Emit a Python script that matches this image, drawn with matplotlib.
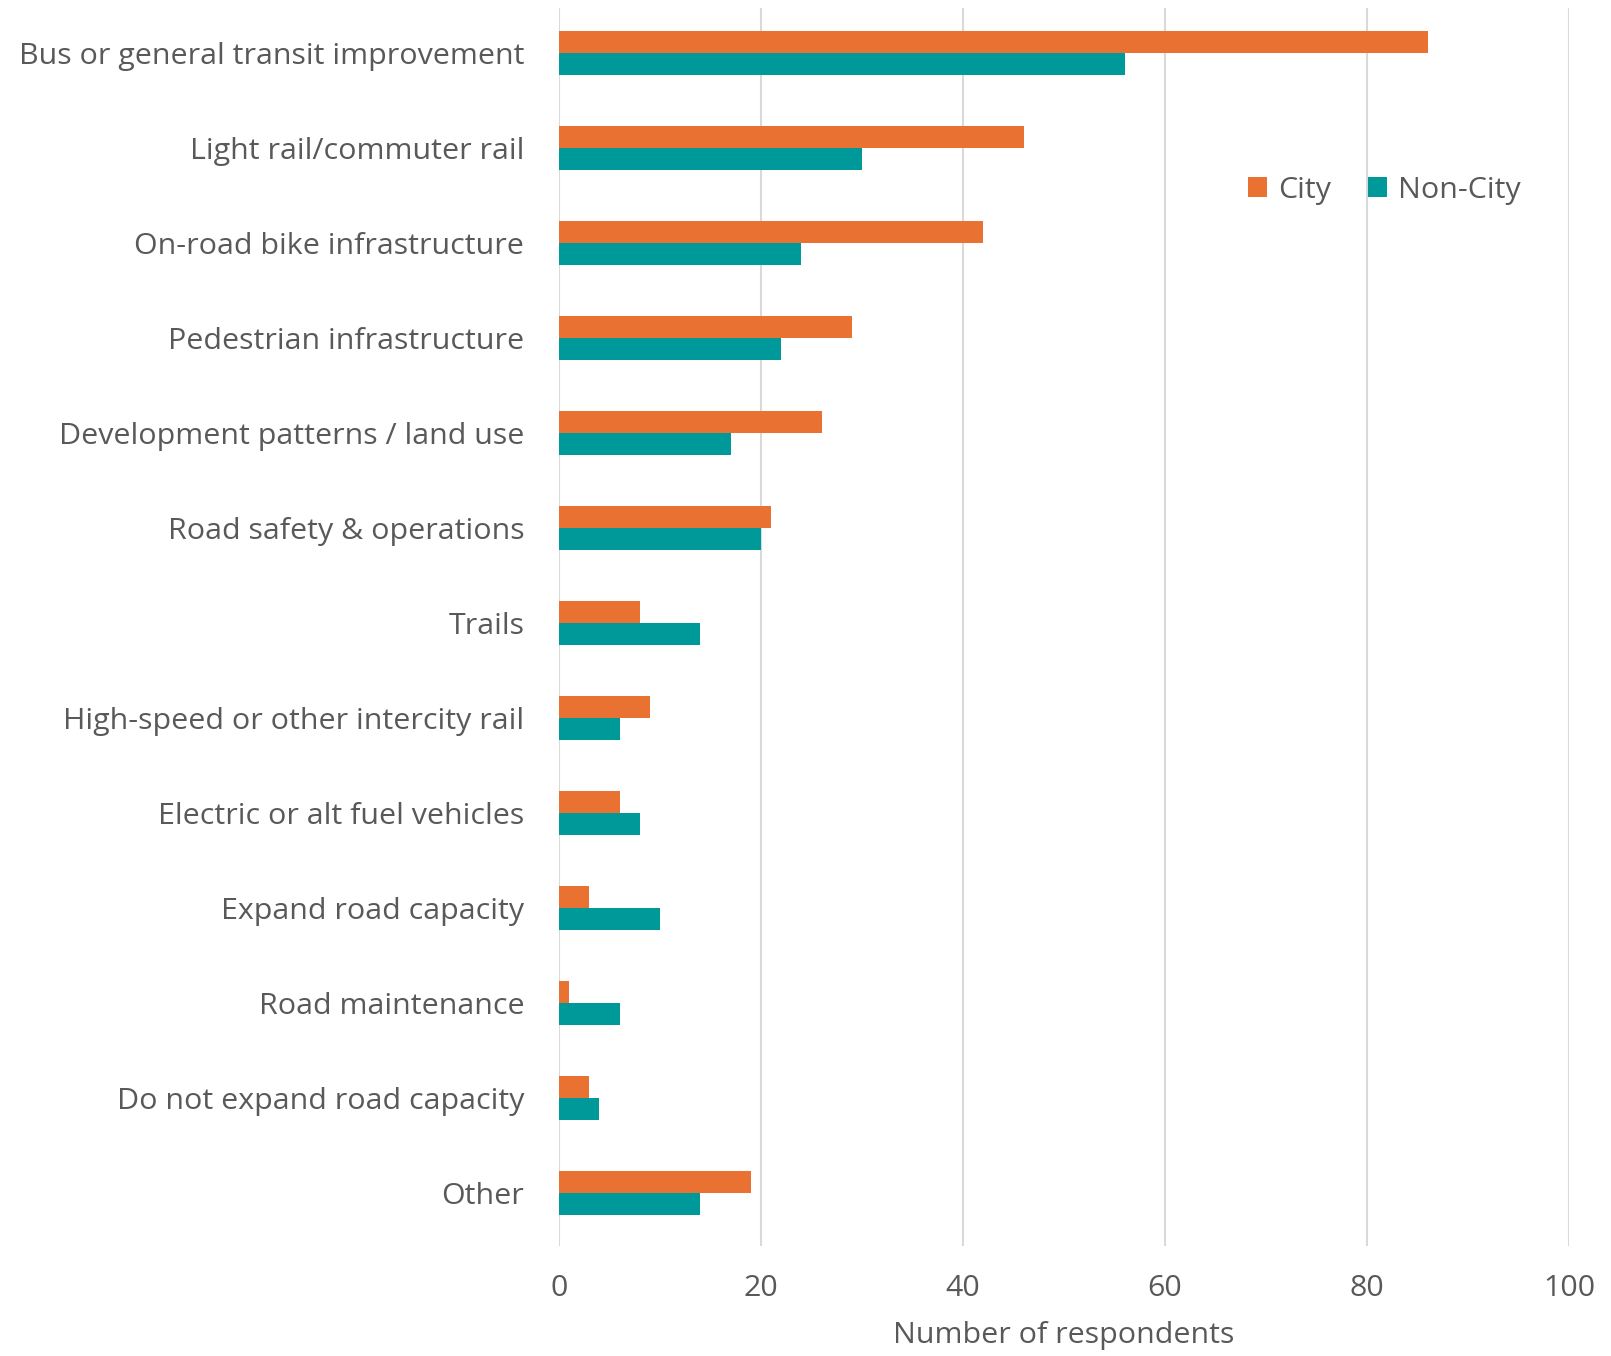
import matplotlib
matplotlib.use("Agg")
import matplotlib.pyplot as plt
import numpy as np

categories = [
    "Bus or general transit improvement",
    "Light rail/commuter rail",
    "On-road bike infrastructure",
    "Pedestrian infrastructure",
    "Development patterns / land use",
    "Road safety & operations",
    "Trails",
    "High-speed or other intercity rail",
    "Electric or alt fuel vehicles",
    "Expand road capacity",
    "Road maintenance",
    "Do not expand road capacity",
    "Other",
]
city = [86, 46, 42, 29, 26, 21, 8, 9, 6, 3, 1, 3, 19]
non_city = [56, 30, 24, 22, 17, 20, 14, 6, 8, 10, 6, 4, 14]
x_ticks = [0, 20, 40, 60, 80, 100]

plt.rcParams['font.family'] = ['Open Sans', 'DejaVu Sans']
txt = '#595959'
fs = 21.9

fig = plt.figure(figsize=(16.11, 13.56), dpi=100)
ax = fig.add_axes([0.347, 0.081, 0.627, 0.913])

y = np.arange(len(categories))
h = 0.232
ax.barh(y - h / 2, city, height=h, color='#E97132', label='City', zorder=3)
ax.barh(y + h / 2, non_city, height=h, color='#009999', label='Non-City', zorder=3)

ax.set_ylim(12.56, -0.47)
ax.set_xlim(0, 100)
ax.set_yticks(y)
ax.set_yticklabels(categories, fontsize=fs, color=txt)
ax.set_xticks(x_ticks)
ax.set_xticklabels([str(t) for t in x_ticks], fontsize=fs, color=txt)
ax.tick_params(axis='both', length=0)
ax.tick_params(axis='y', pad=25)
ax.tick_params(axis='x', pad=20)
ax.grid(axis='x', color='#D9D9D9', linewidth=1.5, zorder=0)
for s in ax.spines.values():
    s.set_visible(False)
ax.set_xlabel('Number of respondents', fontsize=fs, color=txt, labelpad=13)

leg = ax.legend(loc='center', bbox_to_anchor=(0.817, 0.853), ncol=2, frameon=False,
                fontsize=fs, handlelength=0.65, handleheight=0.65, handletextpad=0.35,
                columnspacing=1.2)
for t in leg.get_texts():
    t.set_color(txt)

fig.savefig('out.png', dpi=100, facecolor='white')
